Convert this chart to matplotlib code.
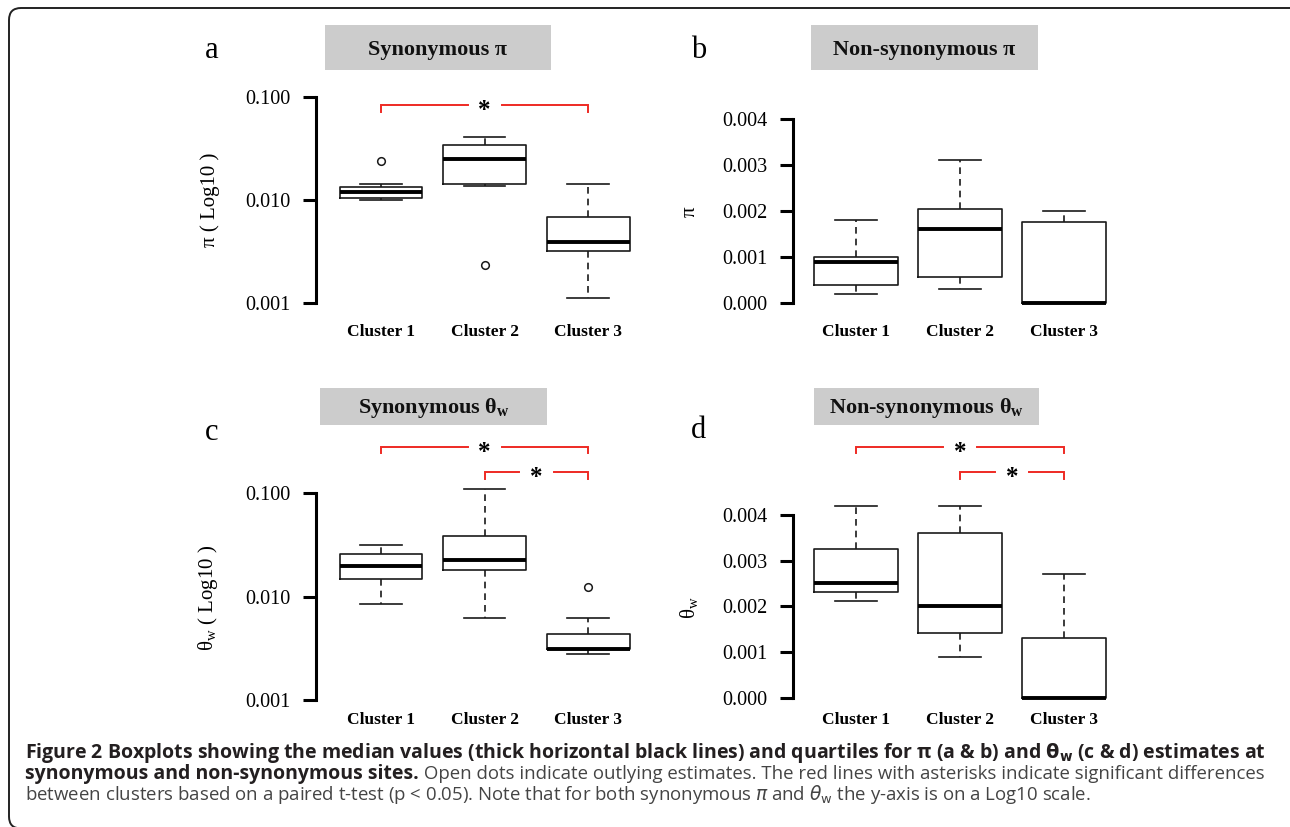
"""
Figure 2 — boxplots of pi and theta_w per cluster, synonymous vs non-synonymous.
Four R-style panels (left spine only, tick range), grey title strips,
red significance brackets, caption block at the bottom.
"""

import matplotlib
matplotlib.use("Agg")
import matplotlib.pyplot as plt
from matplotlib.patches import Rectangle, FancyBboxPatch
from matplotlib.transforms import blended_transform_factory, IdentityTransform
from matplotlib.ticker import NullLocator

W, H = 1290, 827          # output size in pixels (dpi 100)

# ── data (five-number summaries) ──────────────────────────────────────────────
# each row: [whisker low, Q1, median, Q3, whisker high]
clusters = ["Cluster 1", "Cluster 2", "Cluster 3"]

syn_pi = [[0.0099, 0.0105, 0.0120, 0.0134, 0.0143],
          [0.0137, 0.0143, 0.0248, 0.0342, 0.0412],
          [0.00113, 0.00322, 0.00394, 0.00679, 0.0143]]
syn_pi_out = [[0.0238], [0.00234], []]

nonsyn_pi = [[0.0002, 0.0004, 0.0009, 0.00101, 0.0018],
             [0.0003, 0.00057, 0.0016, 0.00205, 0.0031],
             [0.0, 0.0, 0.0, 0.00176, 0.0020]]
nonsyn_pi_out = [[], [], []]

syn_tw = [[0.0085, 0.0149, 0.0197, 0.0259, 0.0315],
          [0.00624, 0.0179, 0.0225, 0.0381, 0.110],
          [0.0028, 0.00309, 0.00313, 0.00434, 0.00615]]
syn_tw_out = [[], [], [0.01227]]

nonsyn_tw = [[0.00211, 0.00231, 0.00251, 0.00325, 0.0042],
             [0.0009, 0.00141, 0.0020, 0.0036, 0.0042],
             [0.0, 0.0, 0.0, 0.0013, 0.00271]]
nonsyn_tw_out = [[], [], []]

log_ticks = [0.001, 0.010, 0.100]
log_tick_labels = ["0.001", "0.010", "0.100"]
lin_ticks = [0.000, 0.001, 0.002, 0.003, 0.004]
lin_tick_labels = ["0.000", "0.001", "0.002", "0.003", "0.004"]

# significant pairs (cluster positions) per panel
sig_a = [(1, 3)]
sig_b = []
sig_c = [(1, 3), (2, 3)]
sig_d = [(1, 3), (2, 3)]

# ── style ─────────────────────────────────────────────────────────────────────
plt.rcParams.update({
    "font.family": ["Liberation Serif", "DejaVu Serif"],
    "mathtext.fontset": "custom",
    "mathtext.rm": "Liberation Serif",
    "mathtext.bf": "Liberation Serif:bold",
    "mathtext.it": "Liberation Serif:italic",
})
INK = "#1a1a1a"
RED = "#ee2a24"
STRIP = "#cccccc"
CAP_FONT = ["Open Sans", "DejaVu Sans"]

fig = plt.figure(figsize=(W / 100, H / 100), dpi=100)


def px_axes(left, top, right, bottom):
    return fig.add_axes([left / W, 1 - bottom / H, (right - left) / W, (bottom - top) / H])


def boxpanel(ax, summary, outliers, log, xlim, label_pad):
    stats = [dict(whislo=s[0], q1=s[1], med=s[2], q3=s[3], whishi=s[4],
                  fliers=f, label=lab)
             for s, f, lab in zip(summary, outliers, clusters)]
    art = ax.bxp(stats, positions=[1, 2, 3], widths=0.8, capwidths=0.4,
                 boxprops=dict(color=INK, lw=1.2),
                 whiskerprops=dict(color=INK, lw=1.2, dashes=(4, 3)),
                 capprops=dict(color=INK, lw=1.2),
                 medianprops=dict(color="black", lw=2.8),
                 flierprops=dict(marker="o", mfc="none", mec=INK, ms=5.5, mew=1.1))
    for arts in art.values():
        for a in arts:
            a.set_clip_on(False)

    if log:
        ax.set_yscale("log")
        ax.set_ylim(log_ticks[0], log_ticks[-1])
        ax.set_yticks(log_ticks, log_tick_labels)
    else:
        ax.set_ylim(lin_ticks[0], lin_ticks[-1])
        ax.set_yticks(lin_ticks, lin_tick_labels)
    ax.yaxis.set_minor_locator(NullLocator())
    ax.set_xlim(*xlim)
    ax.set_xticks([1, 2, 3], clusters, fontweight="bold", fontsize=12.5)

    for side in ("top", "right", "bottom"):
        ax.spines[side].set_visible(False)
    ax.spines["left"].set_linewidth(2.2)
    ax.spines["left"].set_capstyle("projecting")
    ax.tick_params(axis="y", length=9.4, width=2.2, pad=9, labelsize=14.5)
    ax.tick_params(axis="x", length=0, pad=label_pad)
    ax.set_facecolor("none")


def bracket(ax, x1, x2, y_px, gap=0.165, tip=6.5):
    tr = blended_transform_factory(ax.transData, fig.transFigure)
    y, yt = 1 - y_px / H, 1 - (y_px + tip) / H
    xm = (x1 + x2) / 2
    kw = dict(transform=tr, color=RED, lw=1.4, clip_on=False, solid_joinstyle="miter")
    ax.plot([x1, x1, xm - gap], [yt, y, y], **kw)
    ax.plot([xm + gap, x2, x2], [y, y, yt], **kw)
    ax.text(xm, 1 - (y_px + 12) / H, "*", transform=tr, ha="center", va="baseline",
            fontsize=18, fontweight="bold", color="black")


def strip(x0, y0, x1, y1, text):
    fig.add_artist(Rectangle((x0 / W, 1 - y1 / H), (x1 - x0) / W, (y1 - y0) / H,
                             transform=fig.transFigure, fc=STRIP, ec="none"))
    fig.text((x0 + x1) / 2 / W, 1 - ((y0 + y1) / 2 + 2) / H, text, ha="center",
             va="center", fontsize=16, fontweight="bold", color="#111111")


# ── panels ────────────────────────────────────────────────────────────────────
ax_a = px_axes(316, 97, 640, 303)
boxpanel(ax_a, syn_pi, syn_pi_out, True, (0.372, 3.5), 15)
ax_b = px_axes(793, 119, 1116, 303)
boxpanel(ax_b, nonsyn_pi, nonsyn_pi_out, False, (0.394, 3.5), 15)
ax_c = px_axes(316, 493, 640, 700)
boxpanel(ax_c, syn_tw, syn_tw_out, True, (0.372, 3.5), 9)
ax_d = px_axes(793, 515, 1116, 697.7)
boxpanel(ax_d, nonsyn_tw, nonsyn_tw_out, False, (0.394, 3.5), 10.5)

for (i, j), y_px in zip(sig_a, [105]):
    bracket(ax_a, i, j, y_px)
for (i, j), y_px in zip(sig_c, [446.7, 472.3]):
    bracket(ax_c, i, j, y_px)
for (i, j), y_px in zip(sig_d, [446.7, 472.3]):
    bracket(ax_d, i, j, y_px)

# title strips
strip(325, 25, 551, 70, "Synonymous π")
strip(811, 25, 1038, 70, "Non-synonymous π")
strip(320, 388, 547, 425, r"Synonymous $\mathbf{\theta_w}$")
strip(814, 388, 1039, 425, r"Non-synonymous $\mathbf{\theta_w}$")

# panel letters
for x, y, s in [(212, 50, "a"), (699, 50, "b"), (212, 432, "c"), (698, 430, "d")]:
    fig.text(x / W, 1 - y / H, s, ha="center", va="center", fontsize=22)

# y-axis titles
for x, y, s in [(210, 200, "π ( Log10 )"), (690, 212, "π"),
                (208, 598, r"$\mathrm{\theta_w}$ ( Log10 )"), (689, 608, r"$\mathrm{\theta_w}$")]:
    fig.text(x / W, 1 - y / H, s, ha="center", va="center", rotation=90, fontsize=15)

# ── caption ───────────────────────────────────────────────────────────────────
bold_kw = dict(family=CAP_FONT, fontsize=14, va="baseline", math_fontfamily="dejavusans",
               fontweight="bold", color="#231f20")
reg_kw = dict(family=CAP_FONT, fontsize=13.4, va="baseline", math_fontfamily="dejavusans",
              color="#444444")
fig.text(25 / W, 1 - 758 / H,
         r"Figure 2 Boxplots showing the median values (thick horizontal black lines) and "
         r"quartiles for π (a & b) and $\mathbf{\theta_w}$ (c & d) estimates at", **bold_kw)
t2 = fig.text(25 / W, 1 - 779 / H, "synonymous and non-synonymous sites.", **bold_kw)
bb = t2.get_window_extent(renderer=fig.canvas.get_renderer())
fig.text(bb.x1 / W, 1 - 779 / H,
         " Open dots indicate outlying estimates. The red lines with asterisks indicate "
         "significant differences", **reg_kw)
fig.text(25 / W, 1 - 800 / H,
         r"between clusters based on a paired t-test (p < 0.05). Note that for both "
         r"synonymous $\pi$ and $\theta_{\rm w}$ the y-axis is on a Log10 scale.", **reg_kw)

# rounded frame (only top and left edges fall inside the image)
fig.add_artist(FancyBboxPatch((9, -1.5), 1320, H - 6.5, boxstyle="round,pad=0,rounding_size=12",
                              transform=IdentityTransform(), fc="none", ec="#222222", lw=1.4))

fig.savefig("out.png", dpi=100)
